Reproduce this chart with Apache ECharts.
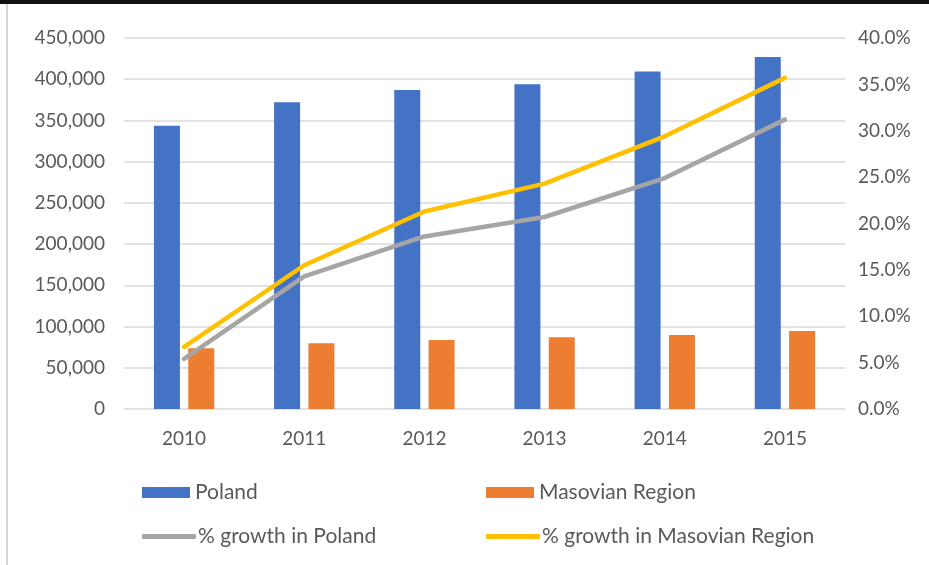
<!DOCTYPE html>
<html>
<head>
<meta charset="utf-8">
<script src="https://cdn.jsdelivr.net/npm/echarts@6/dist/echarts.min.js"></script>
<style>
  html, body { margin: 0; padding: 0; background: #fff; }
  #chart { width: 929px; height: 565px; }
</style>
</head>
<body>
<div id="chart"></div>
<script>
// Years on the category axis
const years = ['2010', '2011', '2012', '2013', '2014', '2015'];

// Bar values (left axis)
const poland = [343500, 372000, 387000, 394000, 409500, 427000];
const masovian = [73600, 79700, 83700, 87000, 89800, 94600];

// Cumulative growth, in percent (right axis)
const growthPoland = [5.4, 14.3, 18.6, 20.7, 24.9, 31.2];
const growthMasovian = [6.7, 15.5, 21.3, 24.3, 29.4, 35.7];

// Axis ticks
const leftMax = 450000, leftStep = 50000;
const rightMax = 40, rightStep = 5;

const FONT = 'Lato';
const TEXT = '#595959';

const chart = echarts.init(document.getElementById('chart'), null, { renderer: 'canvas' });

const legendText = { color: TEXT, fontFamily: FONT, fontSize: 21 };
const lineLegendText = { color: TEXT, fontFamily: FONT, fontSize: 21, padding: [0, 0, 0, -3] };

chart.setOption({
  animation: false,
  backgroundColor: '#ffffff',
  graphic: [
    { type: 'rect', shape: { x: 0, y: 0, width: 929, height: 4 }, style: { fill: '#111111' } },
    { type: 'rect', shape: { x: 6, y: 4, width: 2, height: 561 }, style: { fill: '#d6d6d6' } }
  ],
  grid: { left: 124, right: 84, top: 38, bottom: 156 },
  legend: [
    { left: 137, top: 477, itemWidth: 48, itemHeight: 11, textStyle: legendText,
      data: [{ name: 'Poland', icon: 'rect' }] },
    { left: 481, top: 477, itemWidth: 48, itemHeight: 11, textStyle: legendText,
      data: [{ name: 'Masovian Region', icon: 'rect' }] },
    { left: 137, top: 521, itemWidth: 54, itemHeight: 5, textStyle: lineLegendText,
      data: [{ name: '% growth in Poland', icon: 'roundRect' }] },
    { left: 481, top: 521, itemWidth: 54, itemHeight: 5, textStyle: lineLegendText,
      data: [{ name: '% growth in Masovian Region', icon: 'roundRect' }] }
  ],
  xAxis: {
    type: 'category',
    data: years,
    boundaryGap: true,
    axisLine: { show: false },
    axisTick: { show: false },
    axisLabel: { color: TEXT, fontFamily: FONT, fontSize: 19, margin: 20 }
  },
  yAxis: [
    {
      type: 'value', min: 0, max: leftMax, interval: leftStep,
      axisLine: { show: false }, axisTick: { show: false },
      splitLine: { lineStyle: { color: '#d9d9d9', width: 1.5 } },
      axisLabel: {
        color: TEXT, fontFamily: FONT, fontSize: 19, margin: 19,
        formatter: v => v.toLocaleString('en-US')
      }
    },
    {
      type: 'value', min: 0, max: rightMax, interval: rightStep,
      axisLine: { show: false }, axisTick: { show: false },
      splitLine: { show: false },
      axisLabel: {
        color: TEXT, fontFamily: FONT, fontSize: 19, margin: 13,
        formatter: v => v.toFixed(1) + '%'
      }
    }
  ],
  series: [
    { name: 'Poland', type: 'bar', data: poland, barWidth: 26, barGap: '32%',
      itemStyle: { color: '#4472c4' } },
    { name: 'Masovian Region', type: 'bar', data: masovian, barWidth: 26, barGap: '32%',
      itemStyle: { color: '#ed7d31' } },
    { name: '% growth in Poland', type: 'line', yAxisIndex: 1, data: growthPoland,
      symbol: 'none', itemStyle: { color: '#a5a5a5' },
      lineStyle: { color: '#a5a5a5', width: 4.5, cap: 'round', join: 'round' } },
    { name: '% growth in Masovian Region', type: 'line', yAxisIndex: 1, data: growthMasovian,
      symbol: 'none', itemStyle: { color: '#ffc000' },
      lineStyle: { color: '#ffc000', width: 4.5, cap: 'round', join: 'round' } }
  ]
});
</script>
</body>
</html>
